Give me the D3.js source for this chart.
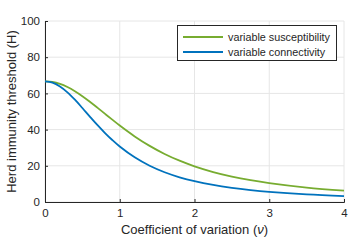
<!DOCTYPE html>
<html>
<head>
<meta charset="utf-8">
<script src="https://cdn.jsdelivr.net/npm/d3@7"></script>
<style>
  body { margin: 0; background: #fff; }
  svg { display: block; font-family: "Liberation Sans", Arial, sans-serif; }
</style>
</head>
<body>
<div id="chart"></div>
<script>
"use strict";

// coefficient of variation (nu)
var cv = [0, 0.1, 0.2, 0.3, 0.4, 0.5, 0.6, 0.7, 0.8, 0.9, 1.0, 1.2, 1.4, 1.6, 1.8, 2.0, 2.25, 2.5, 2.75, 3.0, 3.5, 4.0];
// herd immunity threshold, %
var susceptibility = [66.67, 66.30, 65.23, 63.50, 61.21, 58.47, 55.42, 52.16, 48.82, 45.50, 42.26, 36.25, 31.01, 26.55, 22.83, 19.72, 16.57, 14.06, 12.04, 10.40, 7.96, 6.26];
var connectivity = [66.67, 65.94, 63.84, 60.59, 56.50, 51.93, 47.20, 42.58, 38.24, 34.25, 30.66, 24.66, 20.01, 16.43, 13.66, 11.49, 9.40, 7.82, 6.59, 5.62, 4.22, 3.27];
var seriesNames = ["variable susceptibility", "variable connectivity"];
var seriesColors = ["#77ac30", "#0072bd"];
var xTicks = [0, 1, 2, 3, 4];
var yTicks = [0, 20, 40, 60, 80, 100];

window.addEventListener('load', function () {
	var W = 358, H = 242;
	var margin = {left: 45, right: 14, top: 21, bottom: 40};

	var svg = d3.select("#chart").append("svg")
		.attr("width", W)
		.attr("height", H);

	var x = d3.scaleLinear().domain([0, 4]).range([margin.left, W - margin.right]);
	var y = d3.scaleLinear().domain([0, 100]).range([H - margin.bottom, margin.top]);

	// grid
	svg.append("g").selectAll("line.gx")
		.data(xTicks)
		.enter().append("line")
		.attr("x1", function (d) { return x(d); })
		.attr("x2", function (d) { return x(d); })
		.attr("y1", y(0))
		.attr("y2", y(100))
		.attr("stroke", "#e6e6e6")
		.attr("stroke-width", 1);
	svg.append("g").selectAll("line.gy")
		.data(yTicks)
		.enter().append("line")
		.attr("x1", x(0))
		.attr("x2", x(4))
		.attr("y1", function (d) { return y(d); })
		.attr("y2", function (d) { return y(d); })
		.attr("stroke", "#e6e6e6")
		.attr("stroke-width", 1);

	// axes
	var xAxis = d3.axisBottom(x).tickValues(xTicks).tickSize(-3).tickPadding(7).tickFormat(d3.format("d"));
	var yAxis = d3.axisLeft(y).tickValues(yTicks).tickSize(-3).tickPadding(5).tickFormat(d3.format("d"));

	var gx = svg.append("g")
		.attr("transform", "translate(0," + y(0) + ")")
		.call(xAxis);
	var gy = svg.append("g")
		.attr("transform", "translate(" + x(0) + ",0)")
		.call(yAxis);

	[gx, gy].forEach(function (g) {
		g.select(".domain").attr("stroke", "#262626");
		g.selectAll(".tick line").attr("stroke", "#262626");
		g.selectAll(".tick text")
			.attr("fill", "#262626")
			.attr("font-size", "11.5px")
			.attr("font-family", "Liberation Sans, Arial, sans-serif");
	});

	// lines
	var series = [susceptibility, connectivity];
	var line = d3.line()
		.x(function (d, i) { return x(cv[i]); })
		.y(function (d) { return y(d); })
		.curve(d3.curveCatmullRom);

	series.forEach(function (s, k) {
		svg.append("path")
			.datum(s)
			.attr("d", line)
			.attr("fill", "none")
			.attr("stroke", seriesColors[k])
			.attr("stroke-width", 1.8);
	});

	// axis labels
	var xl = svg.append("text")
		.attr("x", (x(0) + x(4)) / 2)
		.attr("y", 234)
		.attr("text-anchor", "middle")
		.attr("font-size", "13px")
		.attr("fill", "#262626");
	xl.append("tspan").text("Coefficient of variation (");
	xl.append("tspan").attr("font-style", "italic").text("ν");
	xl.append("tspan").text(")");

	svg.append("text")
		.attr("transform", "translate(16," + ((y(0) + y(100)) / 2) + ") rotate(-90)")
		.attr("text-anchor", "middle")
		.attr("font-size", "13px")
		.attr("fill", "#262626")
		.text("Herd immunity threshold (H)");

	// legend
	var legend = svg.append("g").attr("transform", "translate(177,25)");
	legend.append("rect")
		.attr("x", 0.5)
		.attr("y", 0.5)
		.attr("width", 159)
		.attr("height", 35)
		.attr("fill", "#fff")
		.attr("stroke", "#262626")
		.attr("stroke-width", 1);

	var items = legend.selectAll(".legend")
		.data(seriesNames)
		.enter().append("g")
		.attr("class", "legend")
		.attr("transform", function (d, i) { return "translate(0," + (12 + i * 15) + ")"; });
	items.append("line")
		.attr("x1", 6)
		.attr("x2", 46)
		.attr("stroke", function (d, i) { return seriesColors[i]; })
		.attr("stroke-width", 1.8);
	items.append("text")
		.attr("x", 51)
		.attr("dy", "0.35em")
		.attr("font-size", "10.8px")
		.attr("fill", "#262626")
		.text(function (d) { return d; });
});
</script>
</body>
</html>
